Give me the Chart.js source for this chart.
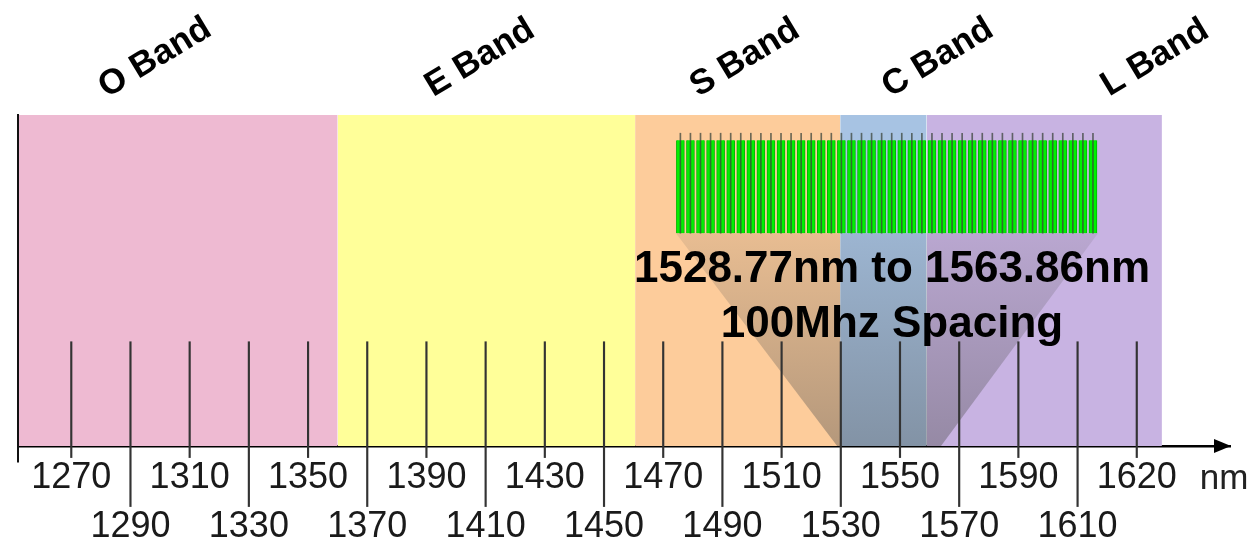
<!DOCTYPE html>
<html>
<head>
<meta charset="utf-8">
<script src="https://cdn.jsdelivr.net/npm/chart.js@4.4.1/dist/chart.umd.min.js"></script>
<style>
  html, body { margin: 0; padding: 0; background: #fff; }
  #wrap { width: 1255px; height: 545px; }
</style>
</head>
<body>
<div id="wrap"><canvas id="bands"></canvas></div>
<script>
// wavelength bands (nm, as drawn on the schematic axis)
const bandNames = ['O Band', 'E Band', 'S Band', 'C Band', 'L Band'];
const bandStart = [1252, 1360, 1460.5, 1529.8, 1559];
const bandEnd = [1360, 1460.5, 1529.8, 1559, 1638.5];
const bandColors = ['#eebad2', '#ffff99', '#fdcc9b', '#a7c3e3', '#c8b3e2'];

// axis ticks: upper row / lower row
const upperTicks = [1270, 1310, 1350, 1390, 1430, 1470, 1510, 1550, 1590, 1630];
const upperLabels = ['1270', '1310', '1350', '1390', '1430', '1470', '1510', '1550', '1590', '1620'];
const lowerTicks = [1290, 1330, 1370, 1410, 1450, 1490, 1530, 1570, 1610];
const lowerLabels = ['1290', '1330', '1370', '1410', '1450', '1490', '1530', '1570', '1610'];

// DWDM comb channels (positions on the axis)
const channels = [
    1475.8, 1479.2, 1482.6, 1486.0, 1489.4, 1492.8, 1496.2, 1499.6, 1503.0, 1506.4,
    1509.8, 1513.2, 1516.6, 1520.0, 1523.4, 1526.8, 1530.2, 1533.6, 1537.0, 1540.4,
    1543.8, 1547.2, 1550.6, 1554.0, 1557.4, 1560.8, 1564.2, 1567.6, 1571.0, 1574.4,
    1577.8, 1581.2, 1584.6, 1588.0, 1591.4, 1594.8, 1598.2, 1601.6, 1605.0, 1608.4,
    1611.8, 1615.2
];
const combRange = [64.3, 92.4];
const spikeRange = [64.3, 94.5];
const combEdges = [1474.3, 1616.9];

const rangeStart = 1528.77;
const rangeEnd = 1563.86;
const spacingText = '100Mhz Spacing';

const tickRangeUpper = [-3.5, 31.5];
const tickRangeLower = [-18.3, 31.5];

Chart.defaults.font.family = '"Liberation Sans", Arial, sans-serif';

const bandSets = bandNames.map((name, i) => ({
    type: 'line',
    label: name,
    data: [{ x: bandStart[i], y: 100 }, { x: bandEnd[i], y: 100 }],
    fill: 'origin',
    backgroundColor: bandColors[i],
    borderWidth: 0,
    pointRadius: 0,
    order: 10
}));

const funnel = {
    type: 'line',
    label: 'funnel',
    data: [
        { x: combEdges[0], y: combRange[0] },
        { x: combEdges[1], y: combRange[0] },
        { x: rangeEnd, y: 0 },
        { x: rangeStart, y: 0 }
    ],
    fill: 'shape',
    backgroundColor: (context) => {
        const chart = context.chart;
        if (!chart.chartArea) return 'rgba(80,80,80,0.25)';
        const top = chart.scales.y.getPixelForValue(combRange[0]);
        const g = chart.ctx.createLinearGradient(0, top, 0, chart.chartArea.bottom);
        g.addColorStop(0, 'rgba(80,80,80,0.12)');
        g.addColorStop(1, 'rgba(80,80,80,0.42)');
        return g;
    },
    borderWidth: 0,
    pointRadius: 0,
    order: 8
};

const tickSet = (ticks, range) => ({
    type: 'bar',
    data: ticks.map(v => ({ x: v, y: range })),
    backgroundColor: '#333',
    barThickness: 1.5,
    grouped: false,
    clip: false,
    order: 6
});

const comb = {
    type: 'bar',
    data: channels.map(v => ({ x: v, y: combRange })),
    backgroundColor: '#00f000',
    borderColor: '#00b800',
    borderWidth: { left: 1, right: 1, top: 0, bottom: 0 },
    borderSkipped: false,
    barThickness: 8,
    grouped: false,
    order: 4
};

const spikes = {
    type: 'bar',
    data: channels.map(v => ({ x: v, y: spikeRange })),
    backgroundColor: 'rgba(60,70,60,0.75)',
    barThickness: 1,
    grouped: false,
    order: 2
};

// where the rotated band names sit (nm) and their centre line (px)
const bandLabelAt = [1298.3, 1408.1, 1497.6, 1562.8, 1636.2];
const noteAt = 1547.3;

const decor = {
    id: 'decor',
    afterDraw(chart) {
        const { ctx, chartArea, scales: { x, y } } = chart;
        ctx.save();

        // left edge line runs a little below the axis
        ctx.strokeStyle = '#111';
        ctx.lineWidth = 2;
        ctx.beginPath();
        ctx.moveTo(chartArea.left, chartArea.top);
        ctx.lineTo(chartArea.left, y.getPixelForValue(-5));
        ctx.stroke();

        // arrow head
        const ay = chartArea.bottom;
        const ax = chartArea.right;
        ctx.fillStyle = '#000';
        ctx.beginPath();
        ctx.moveTo(ax - 16, ay - 7);
        ctx.lineTo(ax + 1, ay);
        ctx.lineTo(ax - 16, ay + 7);
        ctx.closePath();
        ctx.fill();

        // unit
        ctx.font = '35px "Liberation Sans", Arial, sans-serif';
        ctx.fillStyle = '#222';
        ctx.textAlign = 'center';
        ctx.textBaseline = 'middle';
        ctx.fillText('nm', ax - 6, ay + 33);

        // band names
        ctx.font = 'bold 35px "Liberation Sans", Arial, sans-serif';
        ctx.fillStyle = '#000';
        bandNames.forEach((name, i) => {
            ctx.save();
            ctx.translate(x.getPixelForValue(bandLabelAt[i]), 58);
            ctx.rotate(-31 * Math.PI / 180);
            ctx.fillText(name, 0, 0);
            ctx.restore();
        });

        // comb description
        ctx.font = 'bold 44px "Liberation Sans", Arial, sans-serif';
        ctx.textBaseline = 'alphabetic';
        const cx = x.getPixelForValue(noteAt);
        ctx.fillText(rangeStart + 'nm to ' + rangeEnd + 'nm', cx, y.getPixelForValue(49.5));
        ctx.fillText(spacingText, cx, y.getPixelForValue(32.9));

        ctx.restore();
    }
};

new Chart(document.getElementById('bands'), {
    type: 'bar',
    data: {
        datasets: [
            ...bandSets,
            funnel,
            tickSet(upperTicks, tickRangeUpper),
            tickSet(lowerTicks, tickRangeLower),
            comb,
            spikes
        ]
    },
    options: {
        responsive: true,
        maintainAspectRatio: false,
        animation: false,
        devicePixelRatio: 1,
        layout: { padding: { left: 18, right: 25, top: 115, bottom: 0 } },
        plugins: {
            legend: { display: false },
            tooltip: { enabled: false }
        },
        scales: {
            x: {
                type: 'linear',
                min: 1252,
                max: 1661.5,
                offset: false,
                z: 1,
                grid: { display: false, drawTicks: false },
                border: { display: true, color: '#000', width: 2.5 },
                afterBuildTicks: (scale) => {
                    scale.ticks = [...upperTicks, ...lowerTicks]
                        .sort((a, b) => a - b)
                        .map(v => ({ value: v }));
                },
                afterFit: (scale) => { scale.height = 99; },
                ticks: {
                    autoSkip: false,
                    maxRotation: 0,
                    minRotation: 0,
                    padding: 8,
                    color: '#1a1a1a',
                    font: { size: 36, lineHeight: 1.36 },
                    callback: (value) => {
                        const u = upperTicks.indexOf(value);
                        if (u >= 0) return upperLabels[u];
                        const l = lowerTicks.indexOf(value);
                        if (l >= 0) return ['', lowerLabels[l]];
                        return '';
                    }
                }
            },
            y: {
                min: 0,
                max: 100,
                z: 1,
                grid: { display: false, drawTicks: false },
                border: { display: true, color: '#111', width: 2 },
                ticks: { display: false },
                afterFit: (scale) => { scale.width = 0; }
            }
        }
    },
    plugins: [decor]
});
</script>
</body>
</html>
